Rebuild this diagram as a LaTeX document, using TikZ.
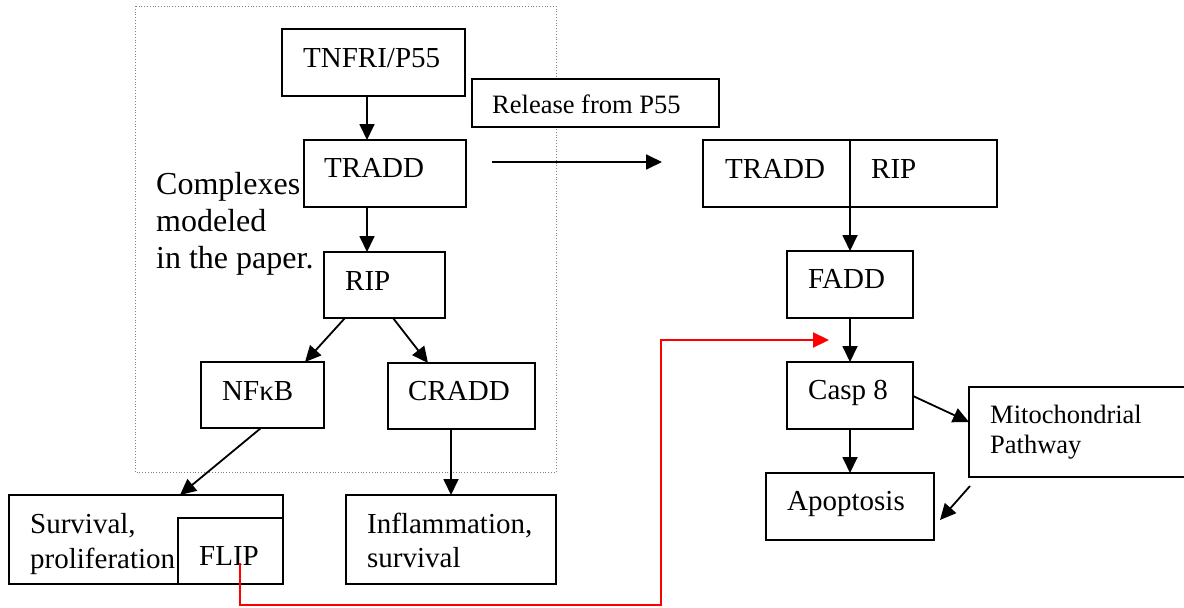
\documentclass[tikz,border=0pt]{standalone}
\usepackage{fontspec}
\setmainfont{Liberation Serif}
\usetikzlibrary{arrows.meta}
\tikzset{
  box/.style={draw, line width=2pt, rectangle, inner sep=0pt, outer sep=0pt, anchor=north west, fill=white},
  lbl/.style={inner sep=0pt, anchor=base west, font=\fontsize{29}{33}\selectfont},
  small/.style={inner sep=0pt, anchor=base west, font=\fontsize{26.5}{30}\selectfont},
  note/.style={inner sep=0pt, anchor=base west, font=\fontsize{32}{37}\selectfont},
  arr/.style={line width=1.8pt, -{Triangle[length=16pt,width=15pt]}},
  redarr/.style={line width=2.2pt, red, -{Triangle[length=16pt,width=15pt]}},
  frame/.style={draw=gray, line width=0.8pt, dotted},
}
\begin{document}
\begin{tikzpicture}[x=1pt, y=-1pt]
\useasboundingbox (0,0) rectangle (1184,608);
\clip (0,0) rectangle (1184,608);
\fill[white] (0,0) rectangle (1184,608);

% frame around the complexes
\draw[frame] (135,6) rectangle (556,472);

% boxes
\node[box, minimum width=183pt, minimum height=67pt] (tnf) at (282,29) {};
\node[box, minimum width=247pt, minimum height=48pt] (rel) at (472,79) {};
\node[box, minimum width=162pt, minimum height=67pt] (tradd) at (304,140) {};
\node[box, minimum width=147pt, minimum height=67pt] (tradd2) at (703,140) {};
\node[box, minimum width=147pt, minimum height=67pt] (rip2) at (850,140) {};
\node[box, minimum width=121pt, minimum height=66pt] (rip) at (324,252) {};
\node[box, minimum width=123pt, minimum height=66pt] (nfkb) at (201,362) {};
\node[box, minimum width=147pt, minimum height=66pt] (cradd) at (388,363) {};
\node[box, minimum width=274pt, minimum height=89pt] (surv) at (9,495) {};
\node[box, minimum width=105pt, minimum height=66pt] (flip) at (178,518) {};
\node[box, minimum width=210pt, minimum height=89pt] (infl) at (346,495) {};
\node[box, minimum width=126pt, minimum height=67pt] (fadd) at (787,251) {};
\node[box, minimum width=126pt, minimum height=67pt] (casp) at (787,362) {};
\node[box, minimum width=168pt, minimum height=67pt] (apop) at (766,473) {};
\node[box, minimum width=230pt, minimum height=90pt] (mito) at (969,387) {};

% texts
\node[lbl] (tnf-t) at (303,67) {TNFRI/P55};
\node[small] (rel-t) at (492,113) {Release from P55};
\node[lbl] (tradd-t) at (324,177) {TRADD};
\node[lbl] (tradd2-t) at (725,178) {TRADD};
\node[lbl] (rip2-t) at (871,178) {RIP};
\node[note] (note1) at (156,194) {Complexes};
\node[note] (note2) at (156,231) {modeled};
\node[note] (note3) at (156,268) {in the paper.};
\node[lbl] (rip-t) at (345,290) {RIP};
\node[lbl] (nfkb-t) at (222,400) {NFκB};
\node[lbl] (cradd-t) at (408,400) {CRADD};
\node[lbl] (surv-t1) at (30,533) {Survival,};
\node[lbl] (surv-t2) at (30,568) {proliferation};
\node[lbl] (flip-t) at (199,565) {FLIP};
\node[lbl] (infl-t1) at (367,533) {Inflammation,};
\node[lbl] (infl-t2) at (367,567) {survival};
\node[lbl] (fadd-t) at (808,288) {FADD};
\node[lbl] (casp-t) at (808,399) {Casp 8};
\node[lbl] (apop-t) at (787,510) {Apoptosis};
\node[small] (mito-t1) at (990,423) {Mitochondrial};
\node[small] (mito-t2) at (990,453) {Pathway};

% reference points for connector ends
\coordinate (c367) at (367,0);
\coordinate (c850) at (850,0);
\coordinate (c451) at (451,0);
\coordinate (ripl) at (345,0);
\coordinate (ripr) at (393,0);
\coordinate (nfin) at (305,0);
\coordinate (crin) at (428,0);
\coordinate (nfout) at (261,0);
\coordinate (survin) at (180,0);
\coordinate (caspout) at (0,396);
\coordinate (mitoin) at (0,422);
\coordinate (mitoout) at (970,486);
\coordinate (apopin) at (940,520);
\coordinate (relstart) at (492,162);
\coordinate (relend) at (662,162);
\coordinate (flipout) at (240,563);
\coordinate (redturn) at (661,605);
\coordinate (redtip) at (829,340);

% connectors
\draw[arr] (tnf.south -| c367) -- (tradd.north -| c367);
\draw[arr] (tradd.south -| c367) -- (rip.north -| c367);
\draw[arr] (rip.south -| ripl) -- (nfkb.north -| nfin);
\draw[arr] (rip.south -| ripr) -- (cradd.north -| crin);
\draw[arr] (nfkb.south -| nfout) -- (surv.north -| survin);
\draw[arr] (cradd.south -| c451) -- (infl.north -| c451);
\draw[arr] (relstart) -- (relend);
\draw[arr] (tradd2.south east) -- (fadd.north -| c850);
\draw[arr] (fadd.south -| c850) -- (casp.north -| c850);
\draw[arr] (casp.south -| c850) -- (apop.north -| c850);
\draw[arr] (casp.east |- caspout) -- (mito.west |- mitoin);
\draw[arr] (mitoout) -- (apopin);
\draw[redarr] (flipout) |- (redturn) |- (redtip);
\end{tikzpicture}
\end{document}
